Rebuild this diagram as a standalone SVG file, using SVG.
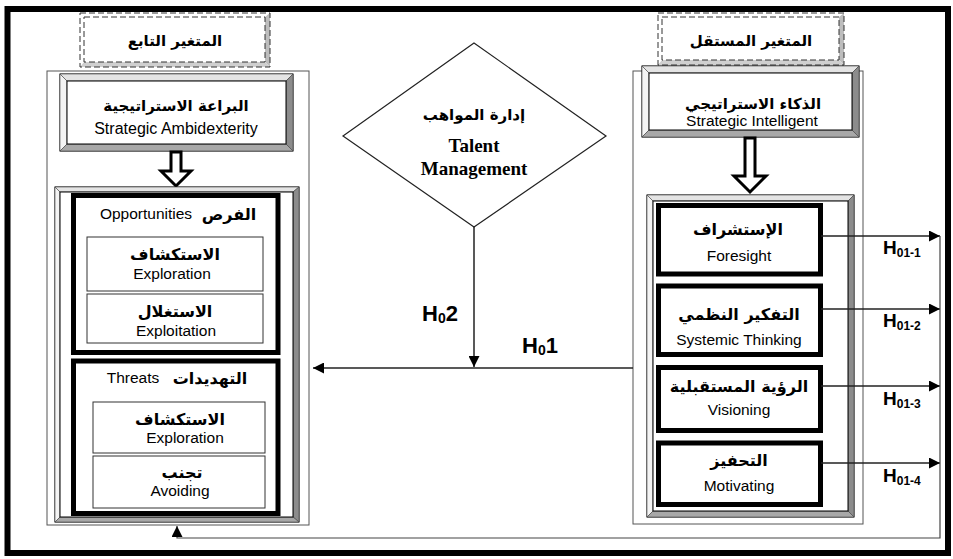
<svg xmlns="http://www.w3.org/2000/svg" width="953" height="559" viewBox="0 0 953 559">
<defs>
<style>
.ar{font-family:"DejaVu Sans",sans-serif;font-weight:bold;fill:#000;text-anchor:middle;direction:rtl}
.en{font-family:"Liberation Sans",Arial,sans-serif;fill:#000;text-anchor:middle}
.tm{font-family:"Liberation Serif","Times New Roman",serif;font-weight:bold;font-size:19px;fill:#000;text-anchor:middle}
.hb{font-family:"Liberation Sans",Arial,sans-serif;font-weight:bold;fill:#000}
.thin{fill:none;stroke:#555;stroke-width:1}
.face{fill:#fff;stroke:#000;stroke-width:1}
.bt{fill:#e4e4e4;stroke:#444;stroke-width:0.6}
.bl{fill:#f4f4f4;stroke:#444;stroke-width:0.6}
.br{fill:#8c8c8c;stroke:#444;stroke-width:0.6}
.bb{fill:#a8a8a8;stroke:#444;stroke-width:0.6}
.thick{fill:#fff;stroke:#000;stroke-width:5}
.small{fill:#fff;stroke:#333;stroke-width:1}
.dash{fill:none;stroke:#333;stroke-width:1;stroke-dasharray:6 3}
.line{fill:none;stroke:#222;stroke-width:1.5}
.blk{fill:#fff;stroke:#000;stroke-width:3;stroke-linejoin:miter}
</style>
<marker id="ah" viewBox="0 0 10 10" refX="10" refY="5" markerWidth="11" markerHeight="11" markerUnits="userSpaceOnUse" orient="auto">
<path d="M0,0 L10,5 L0,10 z" fill="#000"/>
</marker>
</defs>
<rect x="0" y="0" width="953" height="559" fill="#fff"/>
<rect x="7.5" y="9" width="940.5" height="544" fill="none" stroke="#000" stroke-width="6"/>

<!-- dependent variable title -->
<g id="dep-title">
<rect x="80" y="13" width="190" height="54" fill="#fff"/>
<polygon points="270,13 270,67 265,62 265,17" fill="#bdbdbd"/>
<polygon points="80,67 270,67 265,62 84,62" fill="#cfcfcf"/>
<rect x="80" y="13" width="190" height="54" class="dash"/>
<rect x="84" y="17" width="181" height="45" class="dash"/>
<text x="175" y="46" class="ar" font-size="15">المتغير التابع</text>
</g>

<g id="indep-title">
<rect x="658" y="13" width="186" height="52" fill="#fff"/>
<polygon points="844,13 844,65 839,60 839,17" fill="#bdbdbd"/>
<polygon points="658,65 844,65 839,60 662,60" fill="#cfcfcf"/>
<rect x="658" y="13" width="186" height="52" class="dash"/>
<rect x="662" y="17" width="177" height="43" class="dash"/>
<text x="751" y="46" class="ar" font-size="15">المتغير المستقل</text>
</g>

<!-- left outer container -->
<g id="left-container">
<rect x="47" y="71" width="262" height="454" class="thin"/>
</g>

<g id="strategic-ambidexterity">
<rect x="60" y="74" width="233" height="77" fill="#bbb" stroke="#000"/>
<polygon class="bt" points="60,74 293,74 286,81 67,81"/>
<polygon class="bl" points="60,74 67,81 67,144 60,151"/>
<polygon class="br" points="293,74 293,151 286,144 286,81"/>
<polygon class="bb" points="60,151 293,151 286,144 67,144"/>
<rect x="67" y="81" width="219" height="63" class="face"/>
<text x="176" y="111" class="ar" font-size="15">البراعة الاستراتيجية</text>
<text x="176" y="134" class="en" font-size="16">Strategic Ambidexterity</text>
</g>

<g id="arrow-left-down">
<polygon class="blk" points="171,152 181,152 181,171 191,171 176,186 161,171 171,171"/>
</g>

<g id="left-inner">
<rect x="55" y="187" width="244" height="335" fill="#bbb" stroke="#000"/>
<polygon class="bt" points="55,187 299,187 293,192 60,192"/>
<polygon class="bl" points="55,187 60,192 60,517 55,522"/>
<polygon class="br" points="299,187 299,522 293,517 293,192"/>
<polygon class="bb" points="55,522 299,522 293,517 60,517"/>
<rect x="60" y="192" width="233" height="325" class="face"/>
</g>

<g id="opportunities">
<rect x="73.5" y="195.5" width="204.5" height="157" class="thick"/>
<text x="146" y="219" class="en" font-size="15.5">Opportunities</text>
<text x="229" y="220" class="ar" font-size="16">الفرص</text>
</g>
<g id="opp-exploration">
<rect x="87" y="237" width="176" height="54" class="small"/>
<text x="175" y="260" class="ar" font-size="16">الاستكشاف</text>
<text x="172" y="279" class="en" font-size="15.5">Exploration</text>
</g>
<g id="opp-exploitation">
<rect x="87" y="294" width="176" height="49" class="small"/>
<text x="175" y="317" class="ar" font-size="16">الاستغلال</text>
<text x="176" y="336" class="en" font-size="15.5">Exploitation</text>
</g>

<g id="threats">
<rect x="73.5" y="361" width="204.5" height="152.5" class="thick"/>
<text x="133" y="383" class="en" font-size="15.5">Threats</text>
<text x="210" y="384" class="ar" font-size="16">التهديدات</text>
</g>
<g id="thr-exploration">
<rect x="93" y="402" width="172" height="51" class="small"/>
<text x="180" y="425" class="ar" font-size="16">الاستكشاف</text>
<text x="185" y="443" class="en" font-size="15.5">Exploration</text>
</g>
<g id="thr-avoiding">
<rect x="93" y="456" width="172" height="52" class="small"/>
<text x="182" y="478" class="ar" font-size="16">تجنب</text>
<text x="180" y="496" class="en" font-size="15.5">Avoiding</text>
</g>

<!-- talent management -->
<g id="talent-management">
<polygon points="474,43 606,136 474,227 343,136" fill="#fff" stroke="#222" stroke-width="1.2"/>
<text x="474" y="120" class="ar" font-size="15">إدارة المواهب</text>
<text x="474" y="152" class="tm">Talent</text>
<text x="474" y="175" class="tm">Management</text>
</g>

<!-- right container -->
<g id="right-container">
<rect x="633" y="71" width="230" height="453" class="thin"/>
</g>

<g id="strategic-intelligent">
<rect x="642" y="66" width="217" height="71" fill="#bbb" stroke="#000"/>
<polygon class="bt" points="642,66 859,66 852,73 649,73"/>
<polygon class="bl" points="642,66 649,73 649,130 642,137"/>
<polygon class="br" points="859,66 859,137 852,130 852,73"/>
<polygon class="bb" points="642,137 859,137 852,130 649,130"/>
<rect x="649" y="73" width="203" height="57" class="face"/>
<text x="753" y="109" class="ar" font-size="15">الذكاء الاستراتيجي</text>
<text x="752" y="126" class="en" font-size="15.5">Strategic Intelligent</text>
</g>

<g id="arrow-right-down">
<polygon class="blk" points="745,138 755,138 755,176 766,176 750,192 734,176 745,176"/>
</g>

<g id="right-inner">
<rect x="647" y="195" width="207" height="322" fill="#bbb" stroke="#000"/>
<polygon class="bt" points="647,195 854,195 848,201 653,201"/>
<polygon class="bl" points="647,195 653,201 653,511 647,517"/>
<polygon class="br" points="854,195 854,517 848,511 848,201"/>
<polygon class="bb" points="647,517 854,517 848,511 653,511"/>
<rect x="653" y="201" width="195" height="310" class="face"/>
</g>

<g id="foresight">
<rect x="658.5" y="205.5" width="162" height="68.5" class="thick"/>
<text x="738" y="235" class="ar" font-size="16">الإستشراف</text>
<text x="739" y="261" class="en" font-size="15.5">Foresight</text>
</g>
<g id="systemic-thinking">
<rect x="658.5" y="286" width="162" height="68.5" class="thick"/>
<text x="739" y="320" class="ar" font-size="16">التفكير النظمي</text>
<text x="739" y="345" class="en" font-size="15.5">Systemic Thinking</text>
</g>
<g id="visioning">
<rect x="658.5" y="367.5" width="162" height="63" class="thick"/>
<text x="739" y="392" class="ar" font-size="16">الرؤية المستقبلية</text>
<text x="739" y="415" class="en" font-size="15.5">Visioning</text>
</g>
<g id="motivating">
<rect x="658.5" y="443" width="162" height="61.5" class="thick"/>
<text x="739" y="466" class="ar" font-size="16">التحفيز</text>
<text x="739" y="491" class="en" font-size="15.5">Motivating</text>
</g>

<!-- connectors -->
<g id="connectors">
<line x1="633" y1="368" x2="313" y2="368" class="line" marker-end="url(#ah)"/>
<line x1="474" y1="227" x2="474" y2="367" class="line" marker-end="url(#ah)"/>
<line x1="821" y1="236" x2="940" y2="236" class="line" marker-end="url(#ah)"/>
<line x1="821" y1="309" x2="940" y2="309" class="line" marker-end="url(#ah)"/>
<line x1="821" y1="386" x2="940" y2="386" class="line" marker-end="url(#ah)"/>
<line x1="821" y1="463" x2="940" y2="463" class="line" marker-end="url(#ah)"/>
<polyline points="940,236 940,538 177,538 177,526" fill="none" stroke="#444" stroke-width="1.2" marker-end="url(#ah)"/>
</g>

<g id="labels">
<text x="422" y="321" class="hb" font-size="22">H<tspan font-size="14" dy="2">0</tspan><tspan dy="-2">2</tspan></text>
<text x="522" y="353" class="hb" font-size="22">H<tspan font-size="14" dy="2">0</tspan><tspan dy="-2">1</tspan></text>
<text x="883" y="254" class="hb" font-size="19">H<tspan font-size="12" dy="3">01-1</tspan></text>
<text x="883" y="327" class="hb" font-size="19">H<tspan font-size="12" dy="3">01-2</tspan></text>
<text x="883" y="405" class="hb" font-size="19">H<tspan font-size="12" dy="3">01-3</tspan></text>
<text x="883" y="482" class="hb" font-size="19">H<tspan font-size="12" dy="3">01-4</tspan></text>
</g>
</svg>
